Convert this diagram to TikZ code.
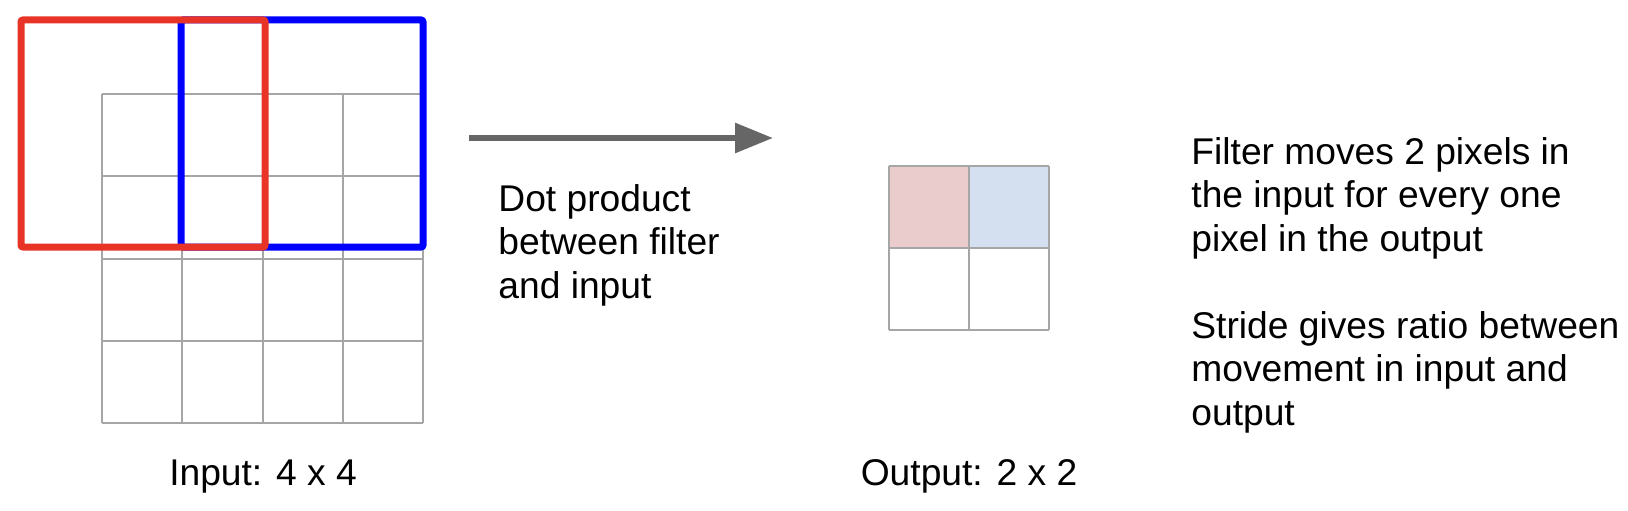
\documentclass[tikz,border=0pt]{standalone}
\usepackage{fontspec}
\setmainfont{Liberation Sans}
\usetikzlibrary{arrows.meta}
\definecolor{filterred}{HTML}{E83426}
\definecolor{filterblue}{HTML}{0000FF}
\definecolor{cellred}{HTML}{EACCCC}
\definecolor{cellblue}{HTML}{D4E0F0}
\definecolor{gridgray}{HTML}{A6A6A6}
\definecolor{arrowgray}{HTML}{666666}

\begin{document}
\begin{tikzpicture}[x=0.5pt, y=0.5pt]
\tikzstyle{label} = [inner sep=0, font=\fontsize{18.6}{21.75}\selectfont]
\tikzstyle{gridline} = [draw=gridgray, line width=1pt]
\tikzstyle{filterbox} = [line width=3.5pt, rounded corners=1pt]
\tikzstyle{edge} = [-{Triangle[length=19pt, width=14.5pt]}, line width=3pt, draw=arrowgray]
\useasboundingbox (0,0) rectangle (1628,510);
% input 4 x 4
\draw[gridline, xstep=80.25, ystep=82.25, shift={(102,87)}] (0,0) grid (321,329);
\draw[filterbox, draw=filterblue] (181,263) rectangle (423,490);
\draw[filterbox, draw=filterred] (21,263) rectangle (265,490);
\node[label, anchor=base] (inlabel) at (263,25) {Input: 4 x 4};
% output 2 x 2
\fill[cellred] (889,262) rectangle (969,344);
\fill[cellblue] (969,262) rectangle (1049,344);
\draw[gridline, xstep=80, ystep=82, shift={(889,180)}] (0,0) grid (160,164);
\node[label, anchor=base] (outlabel) at (969,25) {Output: 2 x 2};
% dot product
\coordinate (from) at (469,372);
\coordinate (to) at (773,372);
\draw[edge] (from)--(to);
\node[label, anchor=base west, align=left] (dot) at (498,212) {Dot product\\between filter\\and input};
\node[label, anchor=base west, align=left] (stride) at (1191,85) {Filter moves 2 pixels in\\the input for every one\\pixel in the output\\[21.75pt]Stride gives ratio between\\movement in input and\\output};
\end{tikzpicture}
\end{document}
